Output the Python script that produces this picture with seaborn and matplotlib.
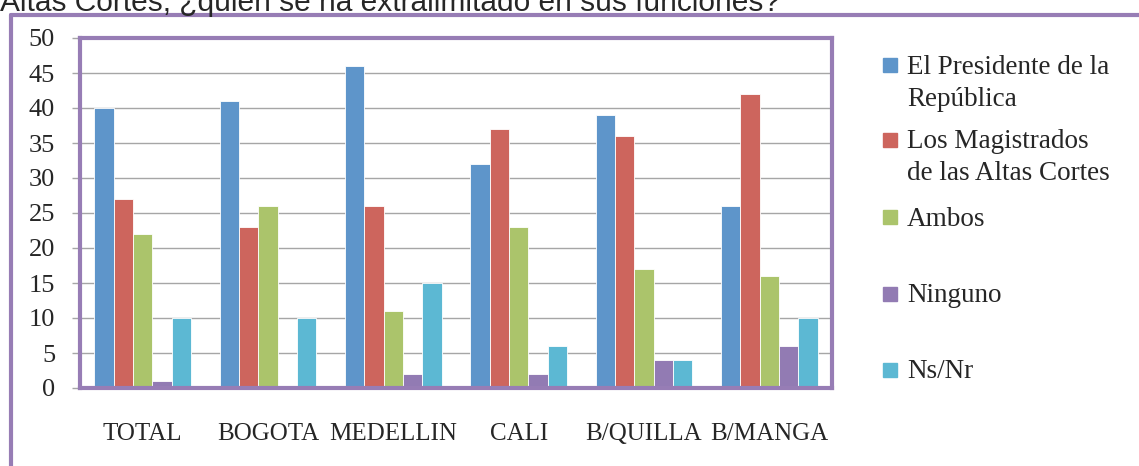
import numpy as np
import pandas as pd
import matplotlib
matplotlib.use("Agg")
import matplotlib.pyplot as plt
from matplotlib.patches import Rectangle
import seaborn as sns

# Datos de la encuesta
titulo = "Altas Cortes, ¿quién se ha extralimitado en sus funciones?"
ciudades = ["TOTAL", "BOGOTA", "MEDELLIN", "CALI", "B/QUILLA", "B/MANGA"]
respuestas = ["El Presidente de la\nRepública", "Los Magistrados\nde las Altas Cortes",
              "Ambos", "Ninguno", "Ns/Nr"]
presidente = [40, 41, 46, 32, 39, 26]
magistrados = [27, 23, 26, 37, 36, 42]
ambos = [22, 26, 11, 23, 17, 16]
ninguno = [1, 0, 2, 2, 4, 6]
nsnr = [10, 10, 15, 6, 4, 10]
y_ticks = list(range(0, 51, 5))

colores = ["#5E95CA", "#CD655D", "#ABC46B", "#927BB3", "#5CB8D3"]
morado = "#977DB5"
gris = "#A6A6A6"

series = [presidente, magistrados, ambos, ninguno, nsnr]
filas = []
for resp, valores in zip(respuestas, series):
    for ciudad, v in zip(ciudades, valores):
        filas.append({"ciudad": ciudad, "respuesta": resp, "valor": v})
df = pd.DataFrame(filas)

sns.set_style("white")
plt.rcParams["font.family"] = ["Liberation Serif", "DejaVu Serif"]

W, H = 1139, 466
fig = plt.figure(figsize=(W / 100, H / 100), dpi=100)
ax = fig.add_axes([80 / W, 1 - 388 / H, (832 - 80) / W, (388 - 38) / H])

sns.barplot(data=df, x="ciudad", y="valor", hue="respuesta", order=ciudades,
            hue_order=respuestas, palette=colores, saturation=1, width=0.77,
            edgecolor="white", linewidth=0.6, ax=ax, legend=False)

ax.set_xlim(-0.5, len(ciudades) - 0.5)
ax.set_ylim(0, 50)
ax.set_yticks(y_ticks)
ax.set_xlabel("")
ax.set_ylabel("")
ax.yaxis.grid(True, color=gris, linewidth=1)
ax.set_axisbelow(True)

ax.set_xticks(np.arange(-0.5, len(ciudades), 1), minor=True)
ax.tick_params(axis="x", which="major", length=0, pad=25, labelsize=18)
ax.tick_params(axis="x", which="minor", length=6, color=gris, width=1, direction="out")
ax.tick_params(axis="y", which="major", length=6, color=gris, width=1, pad=12,
               labelsize=19, left=True, direction="out")

for s in ax.spines.values():
    s.set_visible(True)
    s.set_color(morado)
    s.set_linewidth(3)

# marco exterior
fig.add_artist(plt.Line2D([11 / W, 11 / W], [0, 1 - 15 / H], color=morado,
                          linewidth=3, transform=fig.transFigure))
fig.add_artist(plt.Line2D([11 / W, 1], [1 - 15 / H, 1 - 15 / H], color=morado,
                          linewidth=3, transform=fig.transFigure))

# titulo recortado arriba
fig.text(0, 1 - 11 / H, titulo, family="Liberation Sans", fontsize=21.5,
         va="baseline", ha="left")

# leyenda
leg_y = [65, 140, 217, 294, 370]
for resp, color, yc in zip(respuestas, colores, leg_y):
    fig.add_artist(Rectangle((883 / W, 1 - (yc + 7) / H), 14 / W, 14 / H,
                             color=color, transform=fig.transFigure))
    for j, linea in enumerate(resp.split("\n")):
        fig.text(907 / W, 1 - (yc + 2 + j * 32) / H, linea, fontsize=19.5,
                 va="center", ha="left")

fig.savefig("out.png", dpi=100)
